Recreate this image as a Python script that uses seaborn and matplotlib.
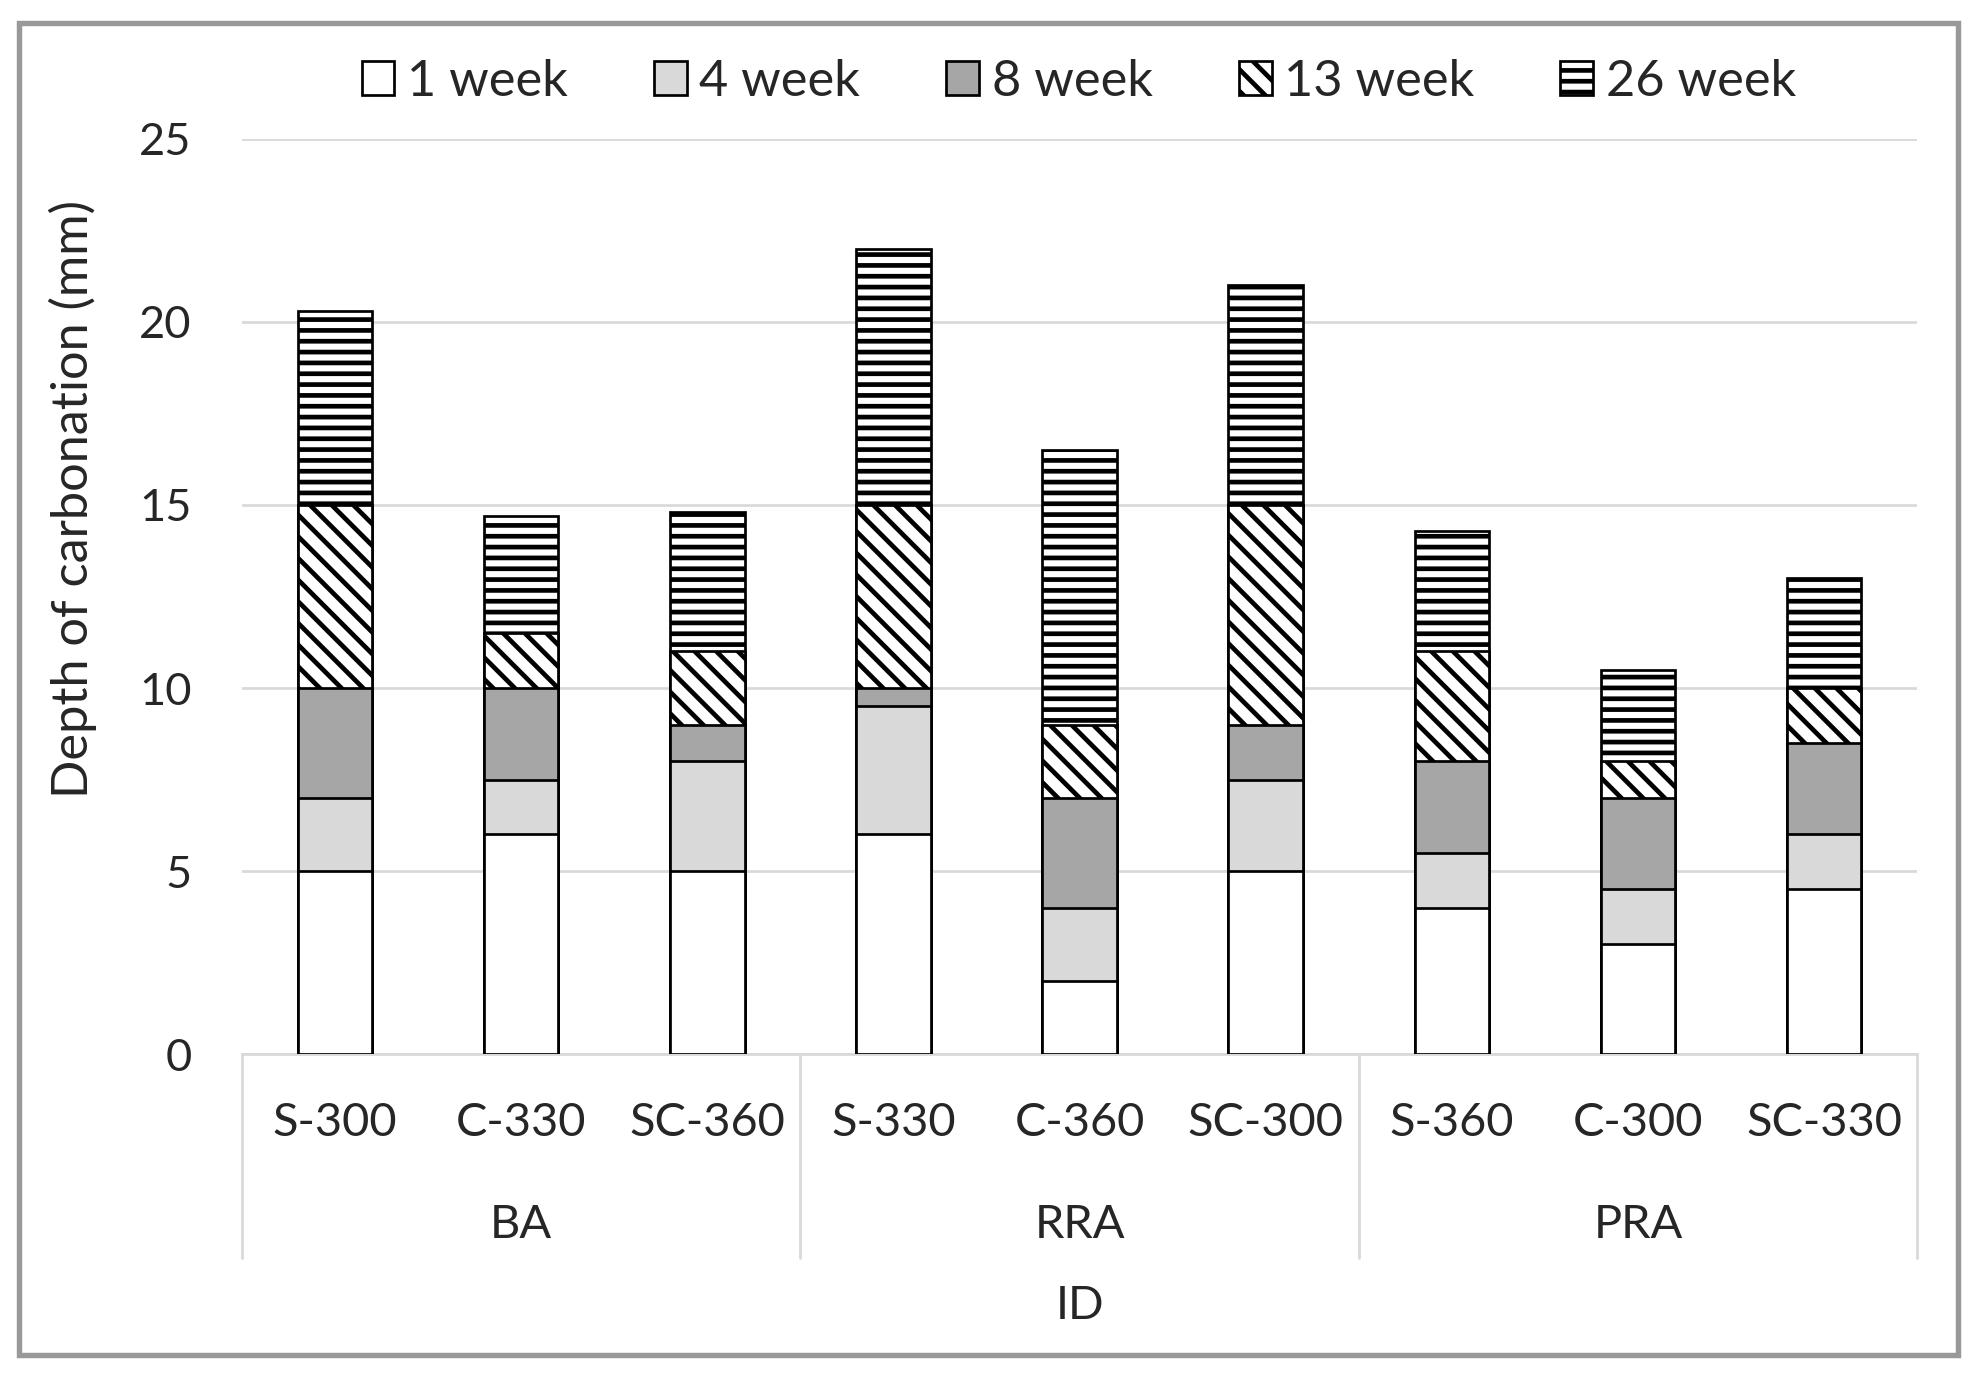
import numpy as np
import pandas as pd
import matplotlib
matplotlib.use("Agg")
import matplotlib.pyplot as plt
import seaborn as sns
from matplotlib.patches import Rectangle, Patch

# Sample IDs and their aggregate groups
samples = ["S-300", "C-330", "SC-360", "S-330", "C-360", "SC-300", "S-360", "C-300", "SC-330"]
groups = ["BA", "RRA", "PRA"]
weeks = ["1 week", "4 week", "8 week", "13 week", "26 week"]

# Increment of carbonation depth (mm) added in each period
w1 = [5.0, 6.0, 5.0, 6.0, 2.0, 5.0, 4.0, 3.0, 4.5]
w4 = [2.0, 1.5, 3.0, 3.5, 2.0, 2.5, 1.5, 1.5, 1.5]
w8 = [3.0, 2.5, 1.0, 0.5, 3.0, 1.5, 2.5, 2.5, 2.5]
w13 = [5.0, 1.5, 2.0, 5.0, 2.0, 6.0, 3.0, 1.0, 1.5]
w26 = [5.3, 3.2, 3.8, 7.0, 7.5, 6.0, 3.3, 2.5, 3.0]

faces = ["white", "#d9d9d9", "#a6a6a6", "white", "white"]
hatches = [None, None, None, "\\\\", "--"]

sns.set_style("white")
plt.rcParams["font.family"] = ["Lato", "DejaVu Sans"]
plt.rcParams["hatch.linewidth"] = 2.6
plt.rcParams["hatch.color"] = "black"

dpi = 130
fig = plt.figure(figsize=(1976 / dpi, 1384 / dpi), dpi=dpi)
ax = fig.add_axes([0.1225, 0.2384, 0.8477, 0.6612])

# stack by drawing cumulative totals from the top layer down
layers = np.array([w1, w4, w8, w13, w26])
cum = np.cumsum(layers, axis=0)
for i in range(len(weeks) - 1, -1, -1):
    df = pd.DataFrame({"ID": samples, "depth": cum[i]})
    sns.barplot(data=df, x="ID", y="depth", order=samples, color=faces[i],
                saturation=1, width=0.4, edgecolor="black", linewidth=1.5,
                hatch=hatches[i], errorbar=None, ax=ax, zorder=3)

ax.set_ylim(0, 25)
ax.set_xlim(-0.5, len(samples) - 0.5)
ax.set_yticks([0, 5, 10, 15, 20, 25])
ax.tick_params(axis="y", labelsize=25, length=0, pad=28)
ax.set_xticks([])
ax.set_xlabel("")
ax.set_ylabel("")
ax.yaxis.grid(True, color="#d9d9d9", linewidth=1.5, zorder=0)
ax.set_axisbelow(True)
for s in ["top", "right", "left"]:
    ax.spines[s].set_visible(False)
ax.spines["bottom"].set_color("#d9d9d9")
ax.spines["bottom"].set_linewidth(1.5)

# multi-level category axis
tr = ax.get_xaxis_transform()
for k, name in enumerate(samples):
    ax.text(k, -0.075, name, transform=tr, ha="center", va="center", fontsize=26)
for g, name in enumerate(groups):
    ax.text(g * 3 + 1, -0.187, name, transform=tr, ha="center", va="center", fontsize=26)
for xs in [-0.5, 2.5, 5.5, 8.5]:
    ax.plot([xs, xs], [0, -0.223], transform=tr, color="#d9d9d9", linewidth=1.5, clip_on=False)
ax.text(4, -0.275, "ID", transform=tr, ha="center", va="center", fontsize=26)

fig.text(73 / 1976, 1 - 499 / 1384, "Depth of carbonation (mm)", rotation=90,
         ha="center", va="center", fontsize=28)

handles = [Patch(facecolor=faces[i], edgecolor="black", hatch=hatches[i], linewidth=1.5)
           for i in range(len(weeks))]
fig.legend(handles, weeks, loc="center", bbox_to_anchor=(0.546, 0.941), ncol=5,
           frameon=False, fontsize=28, handlelength=0.65, handleheight=0.65,
           handletextpad=0.25, columnspacing=1.7)

# grey frame round the whole figure
fig.patches.append(Rectangle((19 / 1976, 1 - 1355 / 1384), (1958 - 19) / 1976, (1355 - 23) / 1384,
                             transform=fig.transFigure, fill=False, edgecolor="#999999",
                             linewidth=3, zorder=10))

fig.savefig("out.png", dpi=dpi)
